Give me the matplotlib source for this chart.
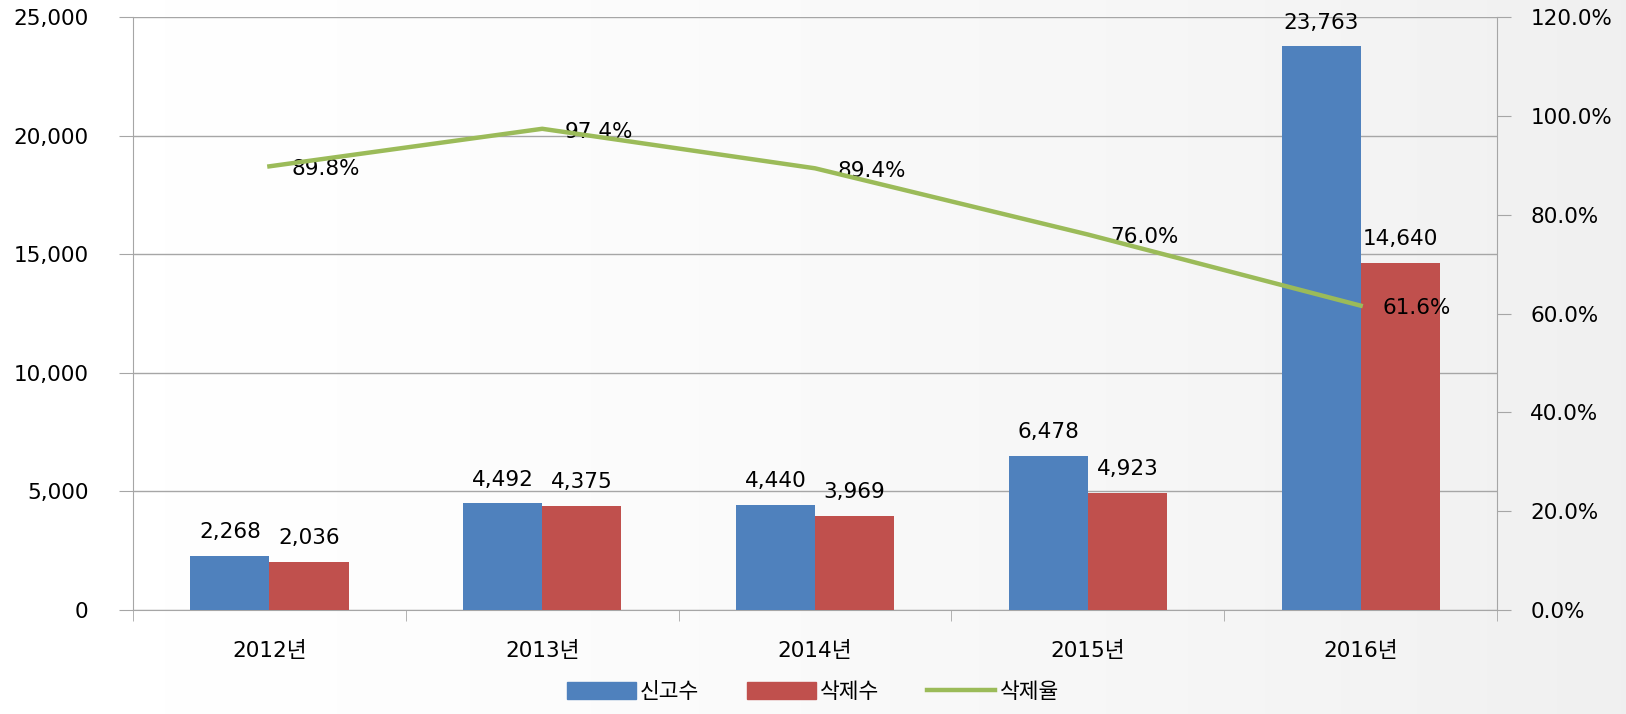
import numpy as np
import matplotlib.pyplot as plt
from matplotlib.patches import Patch
from matplotlib.lines import Line2D

plt.rcParams['font.family'] = ['DejaVu Sans', 'Noto Sans CJK KR']

years = ['2012년', '2013년', '2014년', '2015년', '2016년']
reports = [2268, 4492, 4440, 6478, 23763]
deletions = [2036, 4375, 3969, 4923, 14640]
rate = [89.8, 97.4, 89.4, 76.0, 61.6]

blue = '#4F81BD'
red = '#C0504D'
green = '#9BBB59'
grid = '#A6A6A6'
fs = 15.5

fig = plt.figure(figsize=(16.26, 7.14), dpi=100)

# light grey background, fading in from the left
bg = fig.add_axes([0, 0, 1, 1], zorder=-10)
grad = np.linspace(0, 1, 256) ** 1.5
bg.imshow(np.vstack([grad, grad]), cmap='Greys', vmin=0, vmax=8,
          aspect='auto', extent=[0, 1, 0, 1])
bg.axis('off')

ax = fig.add_axes([0.0818, 0.1457, 0.8389, 0.8303])
ax.patch.set_alpha(0)
x = np.arange(len(years))
w = 0.29
ax.bar(x - w / 2, reports, w, color=blue, zorder=3)
ax.bar(x + w / 2, deletions, w, color=red, zorder=3)
for i in range(len(years)):
    ax.annotate(f'{reports[i]:,}', (x[i] - w / 2, reports[i]), xytext=(0, 10),
                textcoords='offset points', ha='center', va='bottom', fontsize=fs)
    ax.annotate(f'{deletions[i]:,}', (x[i] + w / 2, deletions[i]), xytext=(0, 10),
                textcoords='offset points', ha='center', va='bottom', fontsize=fs)

ax.set_xlim(-0.5, len(years) - 0.5)
ax.set_ylim(0, 25000)
ax.set_yticks(range(0, 25001, 5000))
ax.set_yticklabels([f'{v:,}' for v in range(0, 25001, 5000)], fontsize=fs)
ax.set_xticks(x)
ax.set_xticklabels(years, fontsize=fs)
ax.set_xticks(np.arange(-0.5, len(years)), minor=True)
ax.tick_params(axis='x', which='major', length=0, pad=22)
ax.tick_params(axis='x', which='minor', length=8, color=grid, direction='out')
ax.tick_params(axis='y', length=10, color=grid, pad=22)
ax.grid(axis='y', color=grid, lw=1, zorder=0)
ax.spines['top'].set_visible(False)
ax.spines['right'].set_visible(False)
for s in ['left', 'bottom']:
    ax.spines[s].set_color(grid)

ax2 = ax.twinx()
ax2.plot(x, rate, color=green, lw=3.2, zorder=4)
for i in range(len(years)):
    ax2.annotate(f'{rate[i]:.1f}%', (x[i], rate[i]), xytext=(16, -2),
                 textcoords='offset points', ha='left', va='center', fontsize=fs)
ax2.set_ylim(0, 120)
ax2.set_yticks(range(0, 121, 20))
ax2.set_yticklabels([f'{v:.1f}%' for v in range(0, 121, 20)], fontsize=fs)
ax2.tick_params(axis='y', length=10, color=grid, pad=14)
ax2.spines['top'].set_visible(False)
ax2.spines['left'].set_visible(False)
ax2.spines['bottom'].set_visible(False)
ax2.spines['right'].set_color(grid)

handles = [Patch(color=blue), Patch(color=red), Line2D([], [], color=green, lw=3.2)]
fig.legend(handles, ['신고수', '삭제수', '삭제율'], loc='lower center',
           bbox_to_anchor=(0.5, -0.01), ncol=3, frameon=False, fontsize=fs,
           handlelength=3.2, handleheight=0.8, handletextpad=0.2, columnspacing=2.2)

fig.savefig('out.png', dpi=100)
